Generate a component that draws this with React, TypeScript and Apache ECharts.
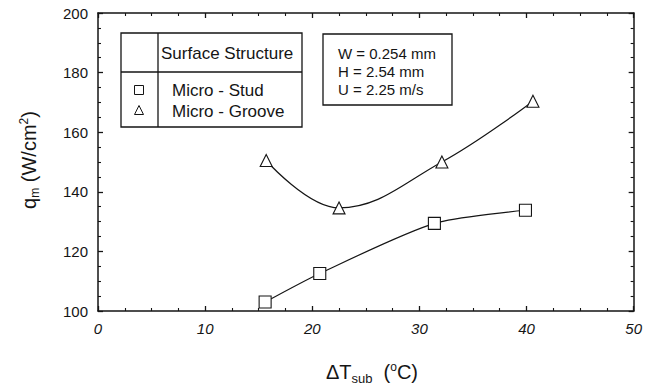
import React, { useEffect, useRef } from "react";
import * as echarts from "echarts";

const xTicks = [0, 10, 20, 30, 40, 50];
const yTicks = [100, 120, 140, 160, 180, 200];
const studX = [15.6, 20.7, 31.4, 39.9];
const studY = [103, 112.6, 129.4, 133.8];
const grooveX = [15.7, 22.5, 32.1, 40.6];
const grooveY = [150.5, 134.6, 150, 170.4];
const legendTitle = "Surface Structure";
const seriesNames = ["Micro - Stud", "Micro - Groove"];
const paramLines = ["W = 0.254 mm", "H = 2.54 mm", "U = 2.25 m/s"];

const FONT = "'Liberation Sans', Arial, Helvetica, sans-serif";
const INK = "#151515";

export default function App() {
  const ref = useRef<HTMLDivElement>(null);
  useEffect(() => {
    if (!ref.current) return;
    const chart = echarts.init(ref.current, null, { renderer: "svg" });
    const xMin = xTicks[0], xMax = xTicks[xTicks.length - 1];
    const yMin = yTicks[0], yMax = yTicks[yTicks.length - 1];
    const xInt = xTicks[1] - xTicks[0];
    const yInt = yTicks[1] - yTicks[0];
    const mkAxis = (pos: string, min: number, max: number, interval: number, label: any) => ({
      type: "value",
      position: pos,
      min, max, interval,
      axisLine: { show: true, onZero: false, lineStyle: { color: INK, width: 1.5 } },
      axisTick: { show: true, inside: true, length: 5, lineStyle: { color: INK, width: 1.3 } },
      minorTick: { show: true, splitNumber: 4, length: 3, lineStyle: { color: INK, width: 1.1 } },
      splitLine: { show: false },
      axisLabel: label,
    });
    chart.setOption({
      animation: false,
      backgroundColor: "#ffffff",
      grid: { left: 98, top: 13, width: 538, height: 298, containLabel: false },
      xAxis: [
        mkAxis("bottom", xMin, xMax, xInt, { show: true, margin: 10, fontSize: 15, fontFamily: FONT, color: INK, fontStyle: "italic" }),
        mkAxis("top", xMin, xMax, xInt, { show: false }),
      ],
      yAxis: [
        mkAxis("left", yMin, yMax, yInt, { show: true, margin: 10, fontSize: 15, fontFamily: FONT, color: INK }),
        mkAxis("right", yMin, yMax, yInt, { show: false }),
      ],
      series: [
        {
          name: seriesNames[0],
          type: "line",
          data: studX.map((x, i) => [x, studY[i]]),
          smooth: 0.25,
          symbol: "rect",
          symbolSize: 12,
          lineStyle: { color: INK, width: 1.2 },
          itemStyle: { color: "#ffffff", borderColor: INK, borderWidth: 1.1 },
          z: 3,
        },
        {
          name: seriesNames[1],
          type: "line",
          data: grooveX.map((x, i) => [x, grooveY[i]]),
          smooth: 0.4,
          symbol: "triangle",
          symbolSize: 12,
          lineStyle: { color: INK, width: 1.2 },
          itemStyle: { color: "#ffffff", borderColor: INK, borderWidth: 1.1 },
          z: 3,
        },
      ],
      graphic: [
        // legend table
        { type: "rect", shape: { x: 121, y: 33, width: 181, height: 94 }, style: { fill: "#fff", stroke: INK, lineWidth: 1.3 }, z: 10 },
        { type: "line", shape: { x1: 158, y1: 33, x2: 158, y2: 127 }, style: { stroke: INK, lineWidth: 1.3 }, z: 11 },
        { type: "line", shape: { x1: 121, y1: 72, x2: 302, y2: 72 }, style: { stroke: INK, lineWidth: 1.3 }, z: 11 },
        { type: "text", x: 161, y: 53, style: { text: legendTitle, font: `17px ${FONT}`, fill: INK, verticalAlign: "middle" }, z: 11 },
        { type: "rect", shape: { x: 134.5, y: 85.5, width: 9, height: 9 }, style: { fill: "#fff", stroke: INK, lineWidth: 1 }, z: 11 },
        { type: "polygon", shape: { points: [[139, 105.5], [134.5, 114.5], [143.5, 114.5]] }, style: { fill: "#fff", stroke: INK, lineWidth: 1 }, z: 11 },
        { type: "text", x: 172, y: 90, style: { text: seriesNames[0], font: `17px ${FONT}`, fill: INK, verticalAlign: "middle" }, z: 11 },
        { type: "text", x: 172, y: 111, style: { text: seriesNames[1], font: `17px ${FONT}`, fill: INK, verticalAlign: "middle" }, z: 11 },
        // parameter box
        { type: "rect", shape: { x: 323, y: 34, width: 129, height: 71 }, style: { fill: "#fff", stroke: INK, lineWidth: 1.3 }, z: 10 },
        ...paramLines.map((t, i) => ({
          type: "text", x: 338, y: 53 + i * 18,
          style: { text: t, font: `15px ${FONT}`, fill: INK, verticalAlign: "middle" }, z: 11,
        })),
        // axis titles
        {
          type: "text", x: 372, y: 372,
          style: {
            text: "ΔT{sub|sub}  ({sup|o}C)",
            font: `20px ${FONT}`, fill: INK, align: "center", verticalAlign: "middle",
            rich: {
              sub: { fontSize: 13, fontFamily: FONT, fill: INK, padding: [12, 0, 0, 0] },
              sup: { fontSize: 12, fontFamily: FONT, fill: INK, padding: [0, 0, 10, 0] },
            },
          },
        },
        {
          type: "text", x: 29, y: 160, rotation: Math.PI / 2,
          style: {
            text: "q{sub|m} (W/cm{sup|2})",
            font: `20px ${FONT}`, fill: INK, align: "center", verticalAlign: "middle",
            rich: {
              sub: { fontSize: 12, fontFamily: FONT, fill: INK, padding: [12, 0, 0, 0] },
              sup: { fontSize: 12, fontFamily: FONT, fill: INK, padding: [0, 0, 10, 0] },
            },
          },
        },
      ],
    });
    return () => chart.dispose();
  }, []);
  return <div ref={ref} style={{ position: "absolute", left: 0, top: 0, width: 645, height: 390 }} />;
}
